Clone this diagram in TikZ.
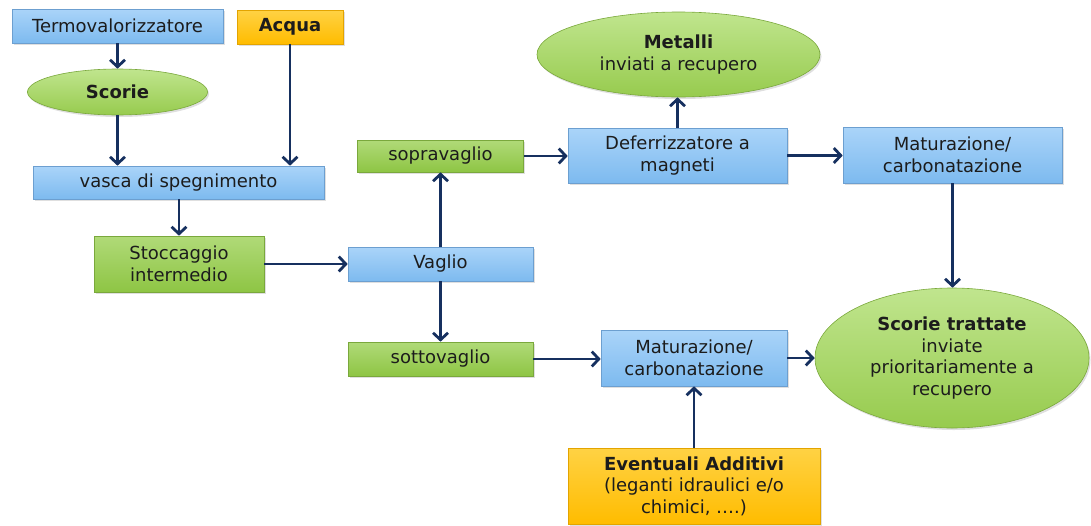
\documentclass[tikz,border=0pt]{standalone}
\usepackage{fontspec}
\setmainfont{DejaVu Sans}
\usetikzlibrary{shapes.geometric,shadows,arrows.meta}

\definecolor{bluetop}{HTML}{AAD4F9}
\definecolor{bluebot}{HTML}{7DBAEF}
\definecolor{blueedge}{HTML}{6C9FD0}
\definecolor{greentop}{HTML}{B0DA78}
\definecolor{greenbot}{HTML}{8EC544}
\definecolor{greenedge}{HTML}{7AA83C}
\definecolor{ovaltop}{HTML}{C0E58E}
\definecolor{ovalbot}{HTML}{97CB4E}
\definecolor{orangetop}{HTML}{FFD244}
\definecolor{orangebot}{HTML}{FFBC00}
\definecolor{orangeedge}{HTML}{E3A400}
\definecolor{navy}{HTML}{16305F}
\definecolor{txt}{HTML}{1C1C1C}

\tikzset{
  base/.style={inner sep=2pt, align=center, text=txt, line width=0.6pt,
    font=\fontsize{18}{21.5}\selectfont,
    drop shadow={shadow xshift=1.5pt, shadow yshift=-2pt, opacity=0.25}},
  bluebox/.style={base, rectangle, draw=blueedge, top color=bluetop, bottom color=bluebot},
  greenbox/.style={base, rectangle, draw=greenedge, top color=greentop, bottom color=greenbot},
  orangebox/.style={base, rectangle, draw=orangeedge, top color=orangetop, bottom color=orangebot},
  greenoval/.style={base, ellipse, inner sep=0pt, draw=greenedge, top color=ovaltop, bottom color=ovalbot},
  flow/.style={line width=2.8pt, draw=navy, -{Straight Barb[length=7pt,width=15pt]}}
}

\begin{document}
\begin{tikzpicture}[x=1pt,y=-1pt]
\useasboundingbox (0,0) rectangle (1091,525);

% left column: incinerator, water, quench tank, storage
\node[bluebox, minimum width=211pt, minimum height=34pt] (termo) at (117.5,26) {Termovalorizzatore};
\node[orangebox, minimum width=106pt, minimum height=34pt] (acqua) at (290,27) {\textbf{Acqua}};
\node[greenoval, minimum width=180pt, minimum height=46pt] (scorie) at (117.5,92) {\textbf{Scorie}};
\node[bluebox, minimum width=291pt, minimum height=33pt] (vasca) at (178.5,182.5) {vasca di spegnimento};
\node[greenbox, minimum width=170pt, minimum height=56pt] (stocc) at (179,264) {Stoccaggio\\intermedio};

% screening
\node[bluebox, minimum width=185pt, minimum height=34pt] (vaglio) at (440.5,264) {Vaglio};
\node[greenbox, minimum width=166pt, minimum height=32pt] (sopra) at (440.5,156) {sopravaglio};
\node[greenbox, minimum width=185pt, minimum height=34pt] (sotto) at (440.5,359) {sottovaglio};

% oversize line
\node[bluebox, minimum width=219pt, minimum height=55pt] (defer) at (677.5,155.5) {Deferrizzatore a\\magneti};
\node[greenoval, minimum width=283pt, minimum height=85pt] (metalli) at (678.5,54.5) {\textbf{Metalli}\\inviati a recupero};
\node[bluebox, minimum width=219pt, minimum height=56pt] (mattop) at (952.5,155) {Maturazione/\\carbonatazione};

% undersize line
\node[bluebox, minimum width=186pt, minimum height=56pt] (matbot) at (694,358) {Maturazione/\\carbonatazione};
\node[orangebox, minimum width=252pt, minimum height=76pt] (add) at (694,486) {\textbf{Eventuali Additivi}\\(leganti idraulici e/o\\chimici, ….)};

% final product
\node[greenoval, minimum width=274pt, minimum height=140pt] (tratt) at (952,358) {\textbf{Scorie trattate}\\inviate\\prioritariamente a\\recupero};

% connectors
\draw[flow] (termo.south) -- (scorie.north);
\draw[flow] (scorie.south) -- (scorie.south |- vasca.north);
\draw[flow] (acqua.south) -- (acqua.south |- vasca.north);
\draw[flow] (stocc.north |- vasca.south) -- (stocc.north);
\draw[flow] (stocc.east) -- (vaglio.west);
\draw[flow] (vaglio.north) -- (sopra.south);
\draw[flow] (vaglio.south) -- (sotto.north);
\draw[flow] (sopra.east) -- (sopra.east -| defer.west);
\draw[flow] (defer.north) -- (defer.north |- metalli.south);
\draw[flow] (defer.east) -- (defer.east -| mattop.west);
\draw[flow] (mattop.south) -- (mattop.south |- tratt.north);
\draw[flow] (sotto.east) -- (sotto.east -| matbot.west);
\draw[flow] (matbot.east) -- (tratt.west);
\draw[flow] (add.north) -- (matbot.south);
\end{tikzpicture}
\end{document}
